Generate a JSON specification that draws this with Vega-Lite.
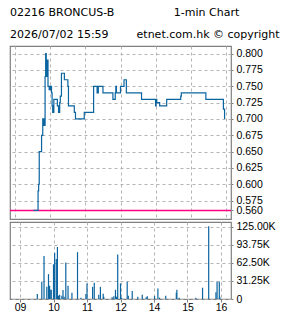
{
  "$schema": "https://vega.github.io/schema/vega-lite/v6.json",
  "background": "white",
  "padding": {"left": 8, "top": 6, "right": 0, "bottom": 0},
  "spacing": 1,
  "title": {
    "text": ["02216 BRONCUS-B\u00a0\u00a0\u00a0\u00a0\u00a0\u00a0\u00a0\u00a0\u00a0\u00a0\u00a0\u00a0\u00a0\u00a0\u00a0\u00a0\u00a01-min Chart", "2026/07/02 15:59\u00a0\u00a0\u00a0\u00a0\u00a0\u00a0\u00a0\u00a0etnet.com.hk © copyright"],
    "anchor": "start",
    "frame": "group",
    "font": "DejaVu Sans",
    "fontSize": 11,
    "fontWeight": "normal",
    "color": "#000000",
    "lineHeight": 22.5,
    "offset": 5
  },
  "config": {
    "view": {"stroke": "#808080", "strokeWidth": 1.2},
    "axis": {
      "labelFont": "Liberation Sans",
      "labelFontSize": 10.5,
      "labelColor": "#000000",
      "gridColor": "#b4b4b4",
      "gridDash": [3, 3],
      "gridWidth": 1,
      "tickColor": "#808080",
      "domain": false,
      "title": null,
      "labelOverlap": false
    }
  },
  "vconcat": [
    {
      "width": 221,
      "height": 173,
      "layer": [
        {
          "data": {"values": [{"prev": 0.56}]},
          "mark": {"type": "rule", "color": "#ff0080", "strokeWidth": 1.5},
          "encoding": {
            "y": {
              "field": "prev", "type": "quantitative",
              "scale": {"domain": [0.5468, 0.8117], "nice": false, "zero": false},
              "axis": {
                "orient": "right",
                "values": [0.56, 0.575, 0.6, 0.625, 0.65, 0.675, 0.7, 0.725, 0.75, 0.775, 0.8],
                "format": ".3f",
                "grid": true,
                "tickSize": 2,
                "labelPadding": 3
              }
            }
          }
        },
        {
          "data": {"values": [
            {"m": 31, "p": 0.56}, {"m": 39, "p": 0.59}, {"m": 40, "p": 0.6}, {"m": 41, "p": 0.65},
            {"m": 45, "p": 0.675}, {"m": 47, "p": 0.7}, {"m": 48, "p": 0.69}, {"m": 49, "p": 0.7},
            {"m": 50, "p": 0.69}, {"m": 51, "p": 0.765}, {"m": 52, "p": 0.8}, {"m": 53, "p": 0.79},
            {"m": 54, "p": 0.765}, {"m": 55, "p": 0.79}, {"m": 56, "p": 0.75}, {"m": 58, "p": 0.745},
            {"m": 59, "p": 0.75}, {"m": 60, "p": 0.745}, {"m": 61, "p": 0.75}, {"m": 62, "p": 0.74},
            {"m": 63, "p": 0.72}, {"m": 64, "p": 0.71}, {"m": 66, "p": 0.73}, {"m": 72, "p": 0.72},
            {"m": 74, "p": 0.71}, {"m": 76, "p": 0.725}, {"m": 77, "p": 0.735}, {"m": 79, "p": 0.77},
            {"m": 84, "p": 0.76}, {"m": 90, "p": 0.75}, {"m": 91, "p": 0.72}, {"m": 101, "p": 0.71},
            {"m": 103, "p": 0.7}, {"m": 118, "p": 0.71}, {"m": 134, "p": 0.75}, {"m": 140, "p": 0.74},
            {"m": 142, "p": 0.75}, {"m": 150, "p": 0.74}, {"m": 167, "p": 0.73}, {"m": 171, "p": 0.74},
            {"m": 172, "p": 0.75}, {"m": 173, "p": 0.74}, {"m": 180, "p": 0.75}, {"m": 186, "p": 0.76},
            {"m": 190, "p": 0.74}, {"m": 216, "p": 0.73}, {"m": 240, "p": 0.72}, {"m": 241, "p": 0.73},
            {"m": 242, "p": 0.725}, {"m": 247, "p": 0.72}, {"m": 259, "p": 0.73}, {"m": 283, "p": 0.735},
            {"m": 284, "p": 0.74}, {"m": 326, "p": 0.73}, {"m": 356, "p": 0.715}, {"m": 358, "p": 0.7}
          ]},
          "mark": {"type": "line", "interpolate": "step-after", "color": "#0a64a0", "strokeWidth": 1.2},
          "encoding": {
            "x": {
              "field": "m", "type": "quantitative",
              "scale": {"domain": [-9, 369], "nice": false, "zero": false},
              "axis": {"values": [0, 60, 120, 180, 240, 300, 360], "grid": true, "labels": false, "ticks": false}
            },
            "y": {
              "field": "p", "type": "quantitative",
              "scale": {"domain": [0.5468, 0.8117], "nice": false, "zero": false},
              "axis": {
                "orient": "right",
                "values": [0.56, 0.575, 0.6, 0.625, 0.65, 0.675, 0.7, 0.725, 0.75, 0.775, 0.8],
                "format": ".3f",
                "grid": true,
                "tickSize": 2,
                "labelPadding": 3
              }
            }
          }
        }
      ]
    },
    {
      "width": 221,
      "height": 77,
      "data": {"values": [
        {"m": 31, "v": 8600}, {"m": 39, "v": 29800}, {"m": 43, "v": 74500}, {"m": 48, "v": 21000},
        {"m": 51, "v": 43000}, {"m": 53, "v": 23000}, {"m": 54, "v": 16000}, {"m": 56, "v": 16000},
        {"m": 60, "v": 60000}, {"m": 62, "v": 80000}, {"m": 65, "v": 69000}, {"m": 67, "v": 90000},
        {"m": 69, "v": 5700}, {"m": 71, "v": 7500}, {"m": 75, "v": 5700}, {"m": 77, "v": 15500},
        {"m": 79, "v": 4000}, {"m": 82, "v": 63000}, {"m": 86, "v": 23000}, {"m": 93, "v": 11000},
        {"m": 103, "v": 81000}, {"m": 109, "v": 2300}, {"m": 118, "v": 8600}, {"m": 120, "v": 27000},
        {"m": 130, "v": 21000}, {"m": 133, "v": 28000}, {"m": 141, "v": 7500}, {"m": 144, "v": 21000},
        {"m": 149, "v": 9000}, {"m": 150, "v": 4000}, {"m": 165, "v": 3000}, {"m": 168, "v": 4600},
        {"m": 171, "v": 16000}, {"m": 173, "v": 4000}, {"m": 175, "v": 77000}, {"m": 180, "v": 27000},
        {"m": 182, "v": 2300}, {"m": 192, "v": 30000}, {"m": 194, "v": 5700}, {"m": 201, "v": 14000},
        {"m": 211, "v": 4000}, {"m": 219, "v": 7500}, {"m": 226, "v": 3000}, {"m": 228, "v": 4600},
        {"m": 241, "v": 5000}, {"m": 247, "v": 18000}, {"m": 250, "v": 2300}, {"m": 261, "v": 5700},
        {"m": 280, "v": 11000}, {"m": 281, "v": 16000}, {"m": 285, "v": 2300}, {"m": 315, "v": 2300},
        {"m": 327, "v": 19500}, {"m": 338, "v": 126000}, {"m": 351, "v": 11500}, {"m": 353, "v": 30000},
        {"m": 357, "v": 30000}, {"m": 358, "v": 4000}
      ]},
      "mark": {"type": "bar", "size": 1.2, "color": "#0a64a0"},
      "encoding": {
        "x": {
          "field": "m", "type": "quantitative",
          "scale": {"domain": [-9, 369], "nice": false, "zero": false},
          "axis": {
            "values": [0, 60, 120, 180, 240, 300, 360],
            "grid": true,
            "tickSize": 3,
            "labelPadding": 0,
            "labelExpr": "['09','10','11','12','14','15','16'][round(datum.value/60)]"
          }
        },
        "y": {
          "field": "v", "type": "quantitative",
          "scale": {"domain": [0, 133200], "nice": false},
          "axis": {
            "orient": "right",
            "values": [0, 31250, 62500, 93750, 125000],
            "grid": true,
            "tickSize": 2,
            "labelPadding": 3,
            "labelExpr": "datum.value == 0 ? '0' : format(datum.value / 1000, '.2f') + 'K'"
          }
        }
      }
    }
  ]
}
